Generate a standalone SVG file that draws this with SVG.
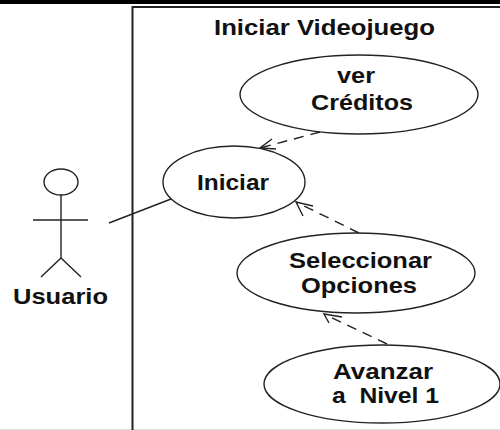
<svg xmlns="http://www.w3.org/2000/svg" width="500" height="430" viewBox="0 0 500 430">
<style>
.s{fill:none;stroke:#222;stroke-width:1.4}
.u{fill:#fff;stroke:#222;stroke-width:1.4}
.d{stroke-dasharray:10 7}
text{font-family:"Liberation Sans",Arial,sans-serif;font-weight:bold;font-size:22px;fill:#111;text-anchor:middle}
</style>
<rect width="500" height="430" fill="#fff"/>
<rect width="500" height="4" fill="#000"/>
<rect y="429" width="500" height="1" fill="#ddd"/>
<path d="M500 7H132.500V430" fill="none" stroke="#222" stroke-width="2"/>
<text x="324.500" y="35" textLength="221" lengthAdjust="spacingAndGlyphs">Iniciar Videojuego</text>
<g id="connectors">
<path class="s" d="M109 223L171 199"/>
<path class="s d" d="M320 132L260 148"/>
<path class="s" d="M272 139L260 148L276 149"/>
<path class="s d" d="M359 233L296 202"/>
<path class="s" d="M303 216L296 202L313 206"/>
<path class="s d" d="M387 344L324 314"/>
<path class="s" d="M329 323L324 314L342 317"/>
</g>
<g id="usuario">
<ellipse class="s" cx="61" cy="182" rx="17" ry="13"/>
<path class="s" d="M61 195V258M33 220H88M41 277L61 258L81 277"/>
<text x="60.500" y="304" textLength="95" lengthAdjust="spacingAndGlyphs">Usuario</text>
</g>
<g id="ver-creditos">
<ellipse class="u" cx="359" cy="94.500" rx="119" ry="39.500"/>
<text x="356" y="83" textLength="38" lengthAdjust="spacingAndGlyphs">ver</text>
<text x="362" y="110" textLength="102" lengthAdjust="spacingAndGlyphs">Créditos</text>
</g>
<g id="iniciar">
<ellipse class="u" cx="234" cy="182" rx="71" ry="36"/>
<text x="233" y="190" textLength="72" lengthAdjust="spacingAndGlyphs">Iniciar</text>
</g>
<g id="seleccionar">
<ellipse class="u" cx="356" cy="273" rx="119" ry="40"/>
<text x="360.500" y="268" textLength="143" lengthAdjust="spacingAndGlyphs">Seleccionar</text>
<text x="359" y="293" textLength="116" lengthAdjust="spacingAndGlyphs">Opciones</text>
</g>
<g id="avanzar">
<ellipse class="u" cx="382" cy="384" rx="118" ry="39"/>
<text x="383" y="379" textLength="100" lengthAdjust="spacingAndGlyphs">Avanzar</text>
<text x="385.500" y="403" textLength="107" lengthAdjust="spacingAndGlyphs" xml:space="preserve">a  Nivel 1</text>
</g>
</svg>
